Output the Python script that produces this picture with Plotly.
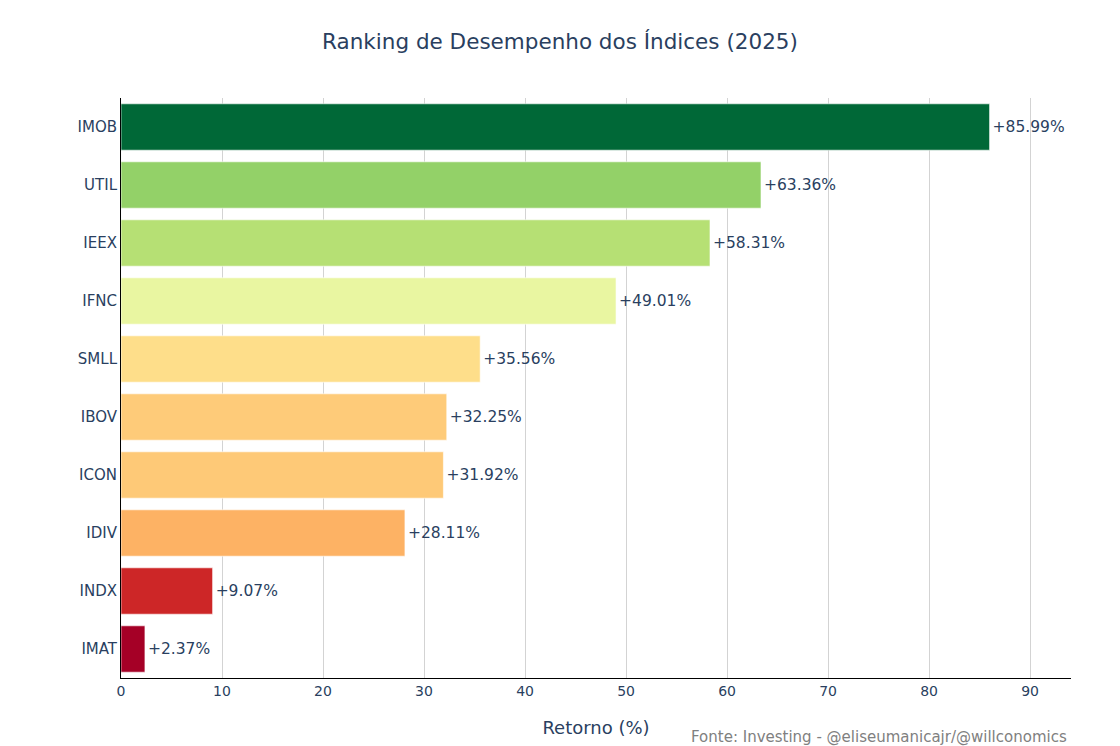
import plotly.graph_objects as go

indices = ["IMAT", "INDX", "IDIV", "ICON", "IBOV", "SMLL", "IFNC", "IEEX", "UTIL", "IMOB"]
retornos = [2.37, 9.07, 28.11, 31.92, 32.25, 35.56, 49.01, 58.31, 63.36, 85.99]
labels = [f"+{v:.2f}%" for v in retornos]
x_ticks = [0, 10, 20, 30, 40, 50, 60, 70, 80, 90]

FONT = "DejaVu Sans, Verdana, sans-serif"

fig = go.Figure(
    go.Bar(
        x=retornos,
        y=indices,
        orientation="h",
        text=labels,
        textposition="outside",
        cliponaxis=False,
        textfont=dict(size=15.5, color="#2a3f5f", family=FONT),
        marker=dict(
            color=retornos,
            colorscale="RdYlGn",
            showscale=False,
            line=dict(color="rgba(255,255,255,0.6)", width=1),
        ),
        hovertemplate="%{y}: %{x:.2f}%<extra></extra>",
    )
)

fig.update_layout(
    template="plotly_white",
    width=1104,
    height=738,
    font=dict(family=FONT, size=14, color="#2a3f5f"),
    title=dict(
        text="Ranking de Desempenho dos Índices (2025)",
        x=0.5,
        xanchor="center",
        y=1 - 33 / 738,
        yanchor="middle",
        font=dict(size=21.5, family=FONT, color="#2a3f5f"),
    ),
    margin=dict(l=113, r=41, t=90, b=68, autoexpand=False),
    bargap=0.2,
    showlegend=False,
    plot_bgcolor="white",
    paper_bgcolor="white",
    annotations=[
        dict(
            text="Fonte: Investing - @eliseumanicajr/@willconomics",
            xref="paper",
            yref="paper",
            x=1.0,
            y=-0.1017,
            xanchor="right",
            yanchor="middle",
            xshift=-2,
            showarrow=False,
            font=dict(size=15, color="gray", family=FONT),
        )
    ],
)

fig.update_xaxes(
    range=[0, 94.05],
    tickvals=x_ticks,
    showgrid=True,
    gridcolor="lightgray",
    gridwidth=1,
    zeroline=False,
    showline=True,
    linecolor="black",
    linewidth=1,
    ticks="",
    tickfont=dict(size=14),
    title=dict(text="Retorno (%)", font=dict(size=18), standoff=23),
    automargin=False,
)
fig.update_yaxes(
    showgrid=False,
    showline=True,
    linecolor="black",
    linewidth=1,
    ticks="",
    tickfont=dict(size=15),
    automargin=False,
)

fig.write_html("out.html")
